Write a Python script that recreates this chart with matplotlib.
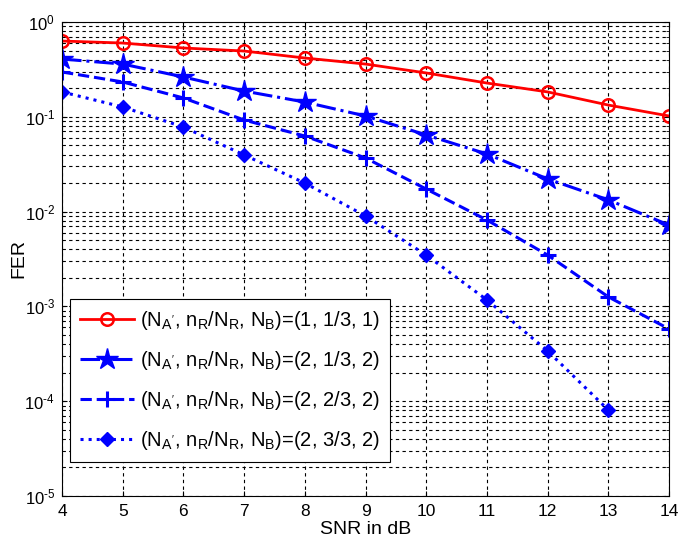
import numpy as np
import matplotlib.pyplot as plt
from matplotlib.ticker import FixedLocator, FixedFormatter

plt.rcParams['font.family'] = ['Liberation Sans', 'DejaVu Sans']
plt.rcParams['mathtext.fontset'] = 'custom'
plt.rcParams['mathtext.rm'] = 'Liberation Sans'
plt.rcParams['mathtext.it'] = 'Liberation Sans'

snr = [4, 5, 6, 7, 8, 9, 10, 11, 12, 13, 14]
fer_1_13_1 = [0.63, 0.60, 0.532, 0.494, 0.417, 0.36, 0.29, 0.227, 0.183, 0.133, 0.102]
fer_2_13_2 = [0.407, 0.36, 0.263, 0.187, 0.143, 0.102, 0.0643, 0.0405, 0.0221, 0.0133, 0.0072]
fer_2_23_2 = [0.297, 0.233, 0.158, 0.0925, 0.0627, 0.0368, 0.0173, 0.00815, 0.00348, 0.00126, 0.000578]
snr_33 = [4, 5, 6, 7, 8, 9, 10, 11, 12, 13]
fer_2_33_2 = [0.183, 0.127, 0.078, 0.0396, 0.020, 0.0090, 0.00348, 0.00117, 0.000339, 0.0000807]

params = ['(1, 1/3, 1)', '(2, 1/3, 2)', '(2, 2/3, 2)', '(2, 3/3, 2)']
labels = ["(N$_{A'}$, n$_R$/N$_R$, N$_B$)=" + p for p in params]

ytick_vals = [1e-5, 1e-4, 1e-3, 1e-2, 1e-1, 1]
ytick_text = [r'10$^{\text{-5}}$', r'10$^{\text{-4}}$', r'10$^{\text{-3}}$',
              r'10$^{\text{-2}}$', r'10$^{\text{-1}}$', r'10$^{\text{0}}$']

fig = plt.figure(figsize=(6.89, 5.42), dpi=100)
ax = fig.add_axes([0.090, 0.0849, 0.881, 0.8745])

ax.semilogy(snr, fer_1_13_1, '-o', color='red', lw=2, ms=9, mfc='none', mew=1.8, label=labels[0])
ax.semilogy(snr, fer_2_13_2, '-.*', color='blue', lw=2.2, ms=16, label=labels[1])
ax.semilogy(snr, fer_2_23_2, '--+', color='blue', lw=2.2, ms=11, mew=2.2, label=labels[2])
ax.semilogy(snr_33, fer_2_33_2, ':D', color='blue', lw=2.2, ms=7, label=labels[3])

ax.set_xlim(4, 14)
ax.set_ylim(1e-5, 1)
ax.set_xticks(range(4, 15))
ax.yaxis.set_major_locator(FixedLocator(ytick_vals))
ax.yaxis.set_major_formatter(FixedFormatter(ytick_text))
ax.set_xlabel('SNR in dB', fontsize=14, labelpad=1)
ax.set_ylabel('FER', fontsize=14, labelpad=-2)
ax.tick_params(axis='x', labelsize=12.5, pad=6)
ax.tick_params(axis='y', labelsize=12, pad=5)
ax.tick_params(direction='in', top=True, right=True)
ax.tick_params(which='minor', direction='in', right=True)

ax.grid(True, which='major', color='black', ls=(0, (3, 3)), lw=0.8)
ax.grid(True, which='minor', axis='y', color='black', ls=(0, (3, 3)), lw=0.8)
ax.set_axisbelow(True)

leg = ax.legend(loc='lower left', bbox_to_anchor=(0.013, 0.0717), fontsize=14.5,
                fancybox=False, framealpha=1, edgecolor='black',
                handlelength=2.7, handletextpad=0.3, labelspacing=0.85,
                borderaxespad=0, borderpad=0.5)
leg.get_frame().set_linewidth(0.8)

fig.savefig('out.png', dpi=100)
